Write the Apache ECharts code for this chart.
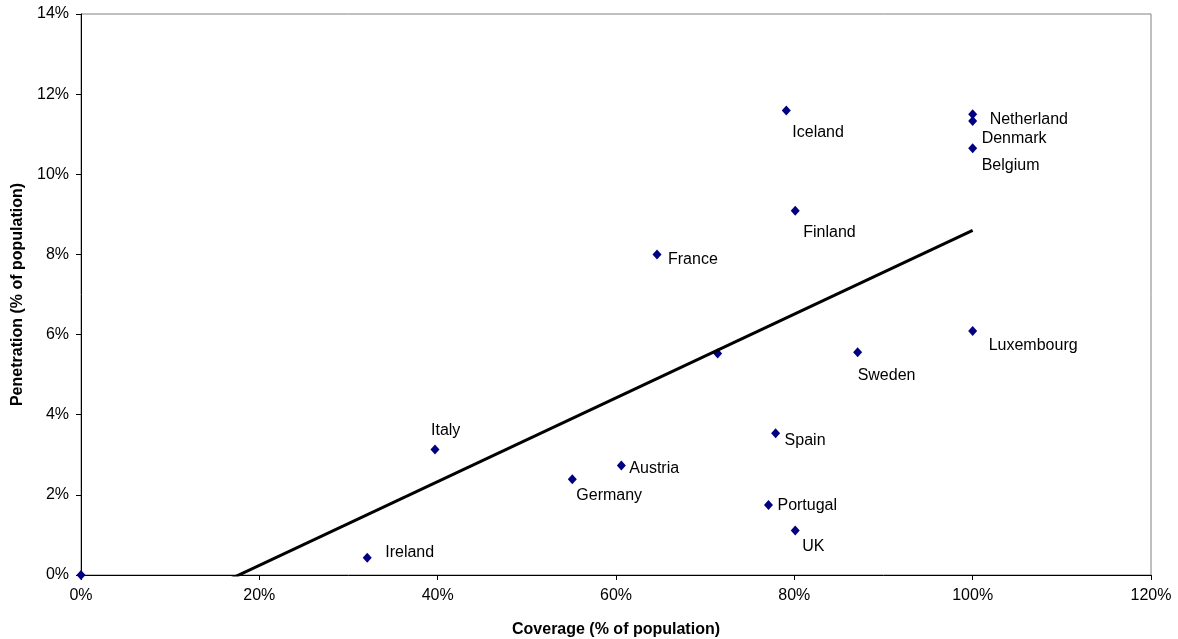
<!DOCTYPE html>
<html>
<head>
<meta charset="utf-8">
<script src="https://cdn.jsdelivr.net/npm/echarts@6/dist/echarts.min.js"></script>
<style>
  html, body { margin: 0; padding: 0; background: #ffffff; }
  #chart { width: 1178px; height: 639px; }
</style>
</head>
<body>
<div id="chart"></div>
<script>
// Broadband coverage vs. penetration by country (both in % of population)
const countries   = ['', 'Ireland', 'Italy', 'Germany', 'Austria', 'France', '', 'Portugal', 'Spain', 'Iceland', 'Finland', 'UK', 'Sweden', 'Luxembourg', 'Netherland', 'Denmark', 'Belgium'];
const coverage    = [0, 32.1, 39.7, 55.1, 60.6, 64.6, 71.4, 77.1, 77.9, 79.1, 80.1, 80.1, 87.1, 100, 100, 100, 100];
const penetration = [0, 0.43, 3.13, 2.39, 2.73, 8.0, 5.53, 1.75, 3.54, 11.59, 9.09, 1.11, 5.56, 6.09, 11.5, 11.33, 10.65];

// Linear trend line end points (coverage %, penetration %)
const trendCoverage    = [0, 100];
const trendPenetration = [-1.85, 8.6];

// Axis ranges
const xRange = { min: 0, max: 120, step: 20 };
const yRange = { min: 0, max: 14, step: 2 };

// Label placement next to each marker: [dx, dy] in pixels
const labelOffset = {
  Ireland: [18, -5], Italy: [-4, -19], Germany: [4, 16], Austria: [8, 3],
  France: [11, 5], Portugal: [9, 1], Spain: [9, 7], Iceland: [6, 22],
  Finland: [8, 22], UK: [7, 16], Sweden: [0, 23], Luxembourg: [16, 15],
  Netherland: [17, 5], Denmark: [9, 18], Belgium: [9, 17]
};

const FONT = 'Liberation Sans, Arial, Helvetica, sans-serif';

const points = countries.map((name, i) => ({
  name: name,
  value: [coverage[i], penetration[i]],
  label: {
    show: name !== '',
    formatter: name,
    position: 'inside',
    align: 'left',
    verticalAlign: 'middle',
    offset: labelOffset[name] || [0, 0],
    color: '#000000',
    fontFamily: FONT,
    fontSize: 16
  }
}));

const trend = trendCoverage.map((x, i) => [x, trendPenetration[i]]);

const chart = echarts.init(document.getElementById('chart'), null, { renderer: 'canvas' });

const axisCommon = {
  type: 'value',
  nameLocation: 'middle',
  nameTextStyle: { fontFamily: FONT, fontSize: 16, fontWeight: 'bold', color: '#000000' },
  axisLine: { show: true, onZero: false, lineStyle: { color: '#000000', width: 1 } },
  axisTick: { show: true, inside: false, length: 5, lineStyle: { color: '#000000' } },
  splitLine: { show: false },
  axisLabel: { fontFamily: FONT, fontSize: 16, color: '#000000', formatter: '{value}%' }
};

chart.setOption({
  animation: false,
  backgroundColor: '#ffffff',
  grid: {
    left: 81, right: 27, top: 14, bottom: 64,
    containLabel: false,
    outerBoundsMode: 'none',
    show: true, borderColor: '#808080', borderWidth: 1, backgroundColor: 'transparent'
  },
  xAxis: Object.assign({}, axisCommon, {
    name: 'Coverage (% of population)',
    nameGap: 47,
    min: xRange.min, max: xRange.max, interval: xRange.step,
    axisLabel: Object.assign({}, axisCommon.axisLabel, { margin: 13 })
  }),
  yAxis: Object.assign({}, axisCommon, {
    name: 'Penetration (% of population)',
    nameGap: 53,
    min: yRange.min, max: yRange.max, interval: yRange.step,
    axisLabel: Object.assign({}, axisCommon.axisLabel, { margin: 12 })
  }),
  series: [
    {
      type: 'scatter',
      symbol: 'diamond',
      symbolSize: [9, 10],
      itemStyle: { color: '#000080', opacity: 1 },
      data: points,
      z: 2
    },
    {
      type: 'line',
      data: trend,
      showSymbol: false,
      symbol: 'none',
      clip: true,
      lineStyle: { color: '#000000', width: 3 },
      silent: true,
      z: 3
    }
  ]
});
</script>
</body>
</html>
